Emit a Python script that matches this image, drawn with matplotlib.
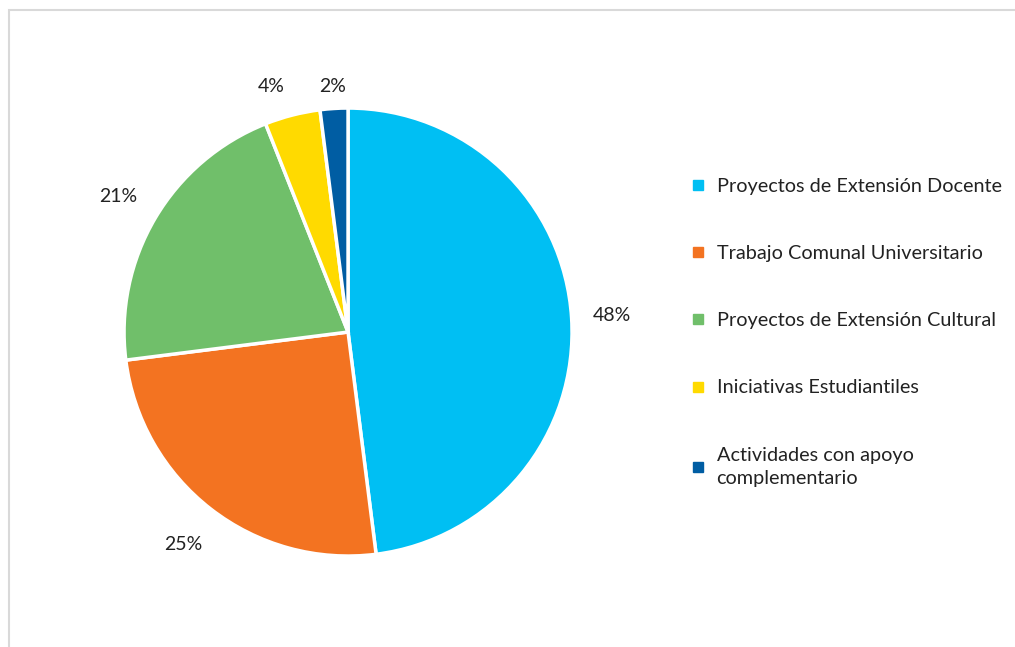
import matplotlib
matplotlib.use("Agg")
import numpy as np
import matplotlib.pyplot as plt
from matplotlib.lines import Line2D
from matplotlib.patches import Rectangle

#################
# Data
#################
categories = ["Proyectos de Extensión Docente",
              "Trabajo Comunal Universitario",
              "Proyectos de Extensión Cultural",
              "Iniciativas Estudiantiles",
              "Actividades con apoyo\ncomplementario"]
shares = [48, 25, 21, 4, 2]
colors = ["#00BFF3", "#F37321", "#70BF6A", "#FFDA00", "#005DA3"]
# distance of each percentage label from the centre (pie radius = 1)
label_dist = [1.18, 1.2, 1.19, 1.13, 1.10]

plt.rcParams['font.family'] = ['Lato', 'DejaVu Sans']

fig = plt.figure(figsize=(10.15, 6.47), dpi=100)

# light frame (cut by the right/bottom edges)
fig.patches.append(Rectangle((9 / 1015, -0.05), 1.1, (647 - 10) / 647 + 0.05,
                             transform=fig.transFigure, fill=False,
                             edgecolor="#D9D9D9", linewidth=1.5))

ax = fig.add_axes([0.1222, 0.1406, 0.4414, 0.6924])
wedges, texts, autotexts = ax.pie(shares, colors=colors, startangle=90, counterclock=False,
                                  autopct='%1.0f%%', pctdistance=1.19,
                                  wedgeprops=dict(edgecolor='white', linewidth=2.5),
                                  textprops=dict(fontsize=14, color='#222222'))
# move labels of the narrow slices a bit closer, like Excel's best fit
for w, t, d in zip(wedges, autotexts, label_dist):
    mid = np.deg2rad((w.theta1 + w.theta2) / 2)
    t.set_position((d * np.cos(mid), d * np.sin(mid)))
autotexts[3].set_ha('right')
ax.set_xlim(-1, 1)
ax.set_ylim(-1, 1)

handles = [Line2D([], [], marker='s', linestyle='', markersize=7, color=c) for c in colors]
leg = fig.legend(handles, categories, loc='upper left', bbox_to_anchor=(0.662, 0.752),
                 frameon=False, fontsize=14.3, handlelength=0.8, handletextpad=0.55,
                 labelspacing=2.52, labelcolor='#222222')
for t in leg.get_texts():
    t.set_linespacing(1.45)

fig.savefig("out.png", dpi=100)
